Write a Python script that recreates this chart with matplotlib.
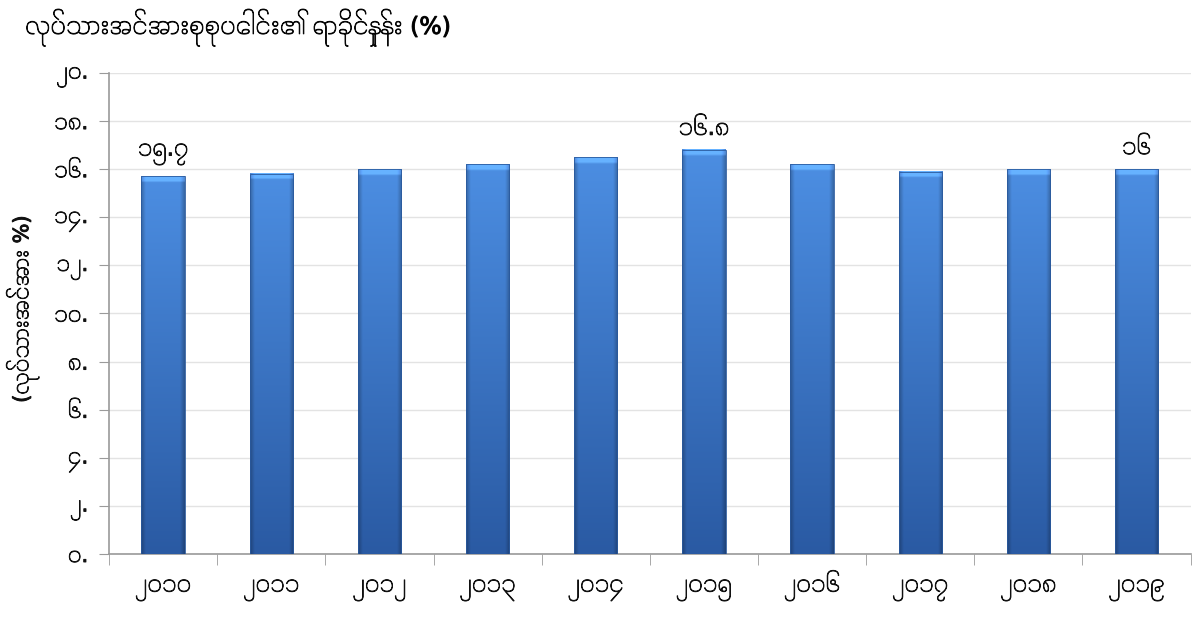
#!/usr/bin/env python3
# labour force share chart (Myanmar)
import numpy as np
import matplotlib
matplotlib.use('Agg')
import matplotlib.pyplot as plt
import matplotlib.patheffects as pe
from matplotlib import font_manager

# data
years = [2010, 2011, 2012, 2013, 2014, 2015, 2016, 2017, 2018, 2019]
values = [15.7, 15.8, 16.0, 16.2, 16.5, 16.8, 16.2, 15.9, 16.0, 16.0]
labelled = {2010: '၁၅.၇', 2015: '၁၆.၈', 2019: '၁၆'}
yticks = [0, 2, 4, 6, 8, 10, 12, 14, 16, 18, 20]

title = 'လုပ်သားအင်အားစုစုပေါင်း၏ ရာခိုင်နှုန်း (%)'
ylabel = '(လုပ်သားအင်အား %)'

MM_DIGITS = str.maketrans('0123456789', '၀၁၂၃၄၅၆၇၈၉')


def mm(n):
    return str(n).translate(MM_DIGITS)


def wnum(w):
    if isinstance(w, (int, float)):
        return w
    return font_manager.weight_dict.get(w, 400)


# pick a font that has Myanmar glyphs if one is around, light-ish weight
mm_entries = [f for f in font_manager.fontManager.ttflist
              if any(k in f.name for k in ('Myanmar', 'Padauk', 'Pyidaungsu', 'Zawgyi'))
              and f.style == 'normal']
mm_entries.sort(key=lambda f: ('UI' in f.name, abs(wnum(f.weight) - 320)))
family = [f.name for f in mm_entries[:1]] + ['DejaVu Sans']
plt.rcParams['font.family'] = family
plt.rcParams['font.weight'] = wnum(mm_entries[0].weight) if mm_entries else 400

# thin font looks too light, thicken strokes a bit
thick = [pe.withStroke(linewidth=0.7, foreground='#111111')]

fig = plt.figure(figsize=(11.93, 6.18), dpi=100)
ax = fig.add_axes([0.0914, 0.1036, 0.9066, 0.7784])

x = np.arange(len(years))
bars = ax.bar(x, values, width=0.40, color='#3b78cf', zorder=2)

# fake the bevelled excel look with a gradient image on each bar
top = np.array([0x4c, 0x8e, 0xe2]) / 255
bot = np.array([0x2a, 0x5a, 0xa3]) / 255
ny, nx = 200, 40
t = np.linspace(0, 1, ny)[:, None, None]
s = np.linspace(-1, 1, nx)[None, :, None]
grad = top * (1 - t) + bot * t
edge = 1 - 0.25 * np.clip((np.abs(s) - 0.8) / 0.2, 0, 1)
img = np.clip(grad * edge, 0, 1)
for b in bars:
    x0, w, h = b.get_x(), b.get_width(), b.get_height()
    im = img.copy()
    cap = int(ny * 0.3 / h)  # light cap about 0.3 units tall
    im[:cap] = np.clip(im[:cap] * 1.15 + 0.06, 0, 1)
    ax.imshow(im, extent=(x0, x0 + w, 0, h), aspect='auto', zorder=3,
              interpolation='bilinear')
    b.set_edgecolor('#2a5a9e')
    b.set_linewidth(0.6)
    b.set_facecolor('none')
    b.set_zorder(4)

for i, yr in enumerate(years):
    if yr in labelled:
        ax.annotate(labelled[yr], (x[i], values[i]), xytext=(0, 8),
                    textcoords='offset points', ha='center', va='bottom',
                    fontsize=16, color='#111111', path_effects=thick)

ax.set_xlim(-0.5, len(years) - 0.5)
ax.set_ylim(0, 20)
ax.set_yticks(yticks)
ax.set_yticklabels([mm(v) + '.' for v in yticks], fontsize=15, color='#111111')
ax.set_xticks(x)
ax.set_xticklabels([mm(y) for y in years], fontsize=16, color='#111111')
for lab in ax.get_xticklabels():
    lab.set_verticalalignment('baseline')
for lab in ax.get_xticklabels() + ax.get_yticklabels():
    lab.set_path_effects(thick)
ax.tick_params(axis='x', length=0, pad=27)
ax.set_xticks(np.arange(len(years) + 1) - 0.5, minor=True)
ax.tick_params(axis='x', which='minor', length=8, color='#9a9a9a', direction='out')
ax.tick_params(axis='y', length=7, color='#9a9a9a', direction='out', pad=8)

ax.grid(axis='y', color='#e3e3e3', linewidth=1, zorder=0)
ax.set_axisbelow(True)
for s_ in ['top', 'right']:
    ax.spines[s_].set_visible(False)
for s_ in ['left', 'bottom']:
    ax.spines[s_].set_color('#9a9a9a')
    ax.spines[s_].set_linewidth(1.2)

fig.text(0.021, 0.955, title, fontsize=17, color='#000000', ha='left', va='center',
         path_effects=thick)
fig.text(0.019, 0.50, ylabel, fontsize=15, rotation=90, ha='center', va='center',
         color='#111111', path_effects=thick)

fig.savefig('out.png', dpi=100)
